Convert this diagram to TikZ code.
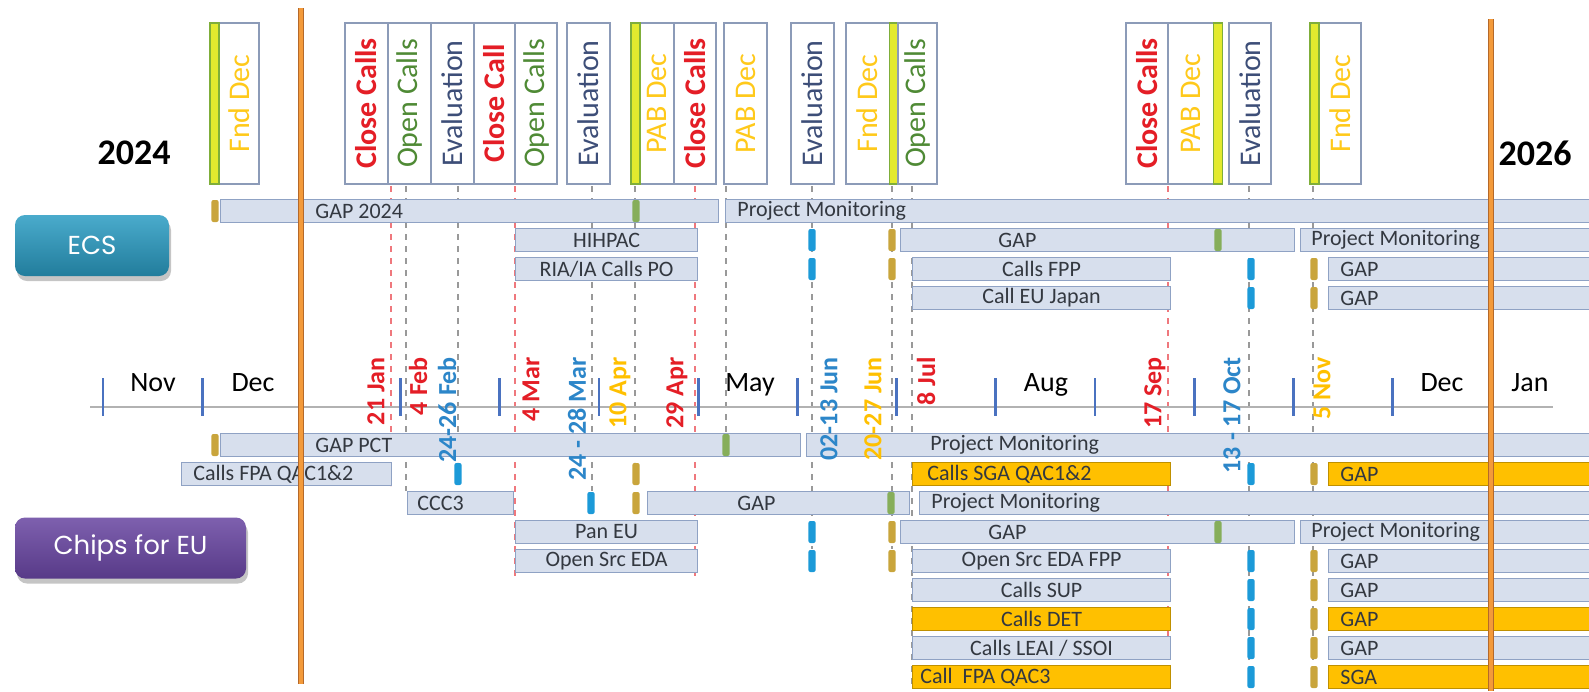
\documentclass[tikz,border=0pt]{standalone}
\usepackage{fontspec}
\setmainfont{Carlito}
\newfontfamily\btnfont{Poppins}
\usetikzlibrary{positioning,shadows}
\definecolor{barfill}{HTML}{D7DFED}
\definecolor{barline}{HTML}{8FA2C4}
\definecolor{goldbar}{HTML}{FFC000}
\definecolor{hdrline}{HTML}{8C9BB8}
\definecolor{calred}{HTML}{E41E26}
\definecolor{calgreen}{HTML}{4F8A35}
\definecolor{calslate}{HTML}{3D4E78}
\definecolor{calyellow}{HTML}{FFC91A}
\definecolor{datblue}{HTML}{2C86C9}
\definecolor{mkblue}{HTML}{1C9AD8}
\definecolor{mkgold}{HTML}{C9A53C}
\definecolor{mkgreen}{HTML}{86AE5A}
\definecolor{limebar}{HTML}{E3EA2E}
\definecolor{limeedge}{HTML}{7FAE3A}
\definecolor{tickblue}{HTML}{4A72C0}
\definecolor{orangeline}{HTML}{F39A3A}
\definecolor{orangeedge}{HTML}{B5692A}
\definecolor{ecsteal}{HTML}{2A9CC3}
\definecolor{chipspurple}{HTML}{6744A0}
\definecolor{bartext}{HTML}{333840}

\begin{document}
\begin{tikzpicture}[
  x=0.5pt, y=-0.5pt,
  bar/.style={draw=barline,fill=barfill,line width=0.6pt,minimum height=11.5pt,inner sep=0pt,anchor=west,font=\fontsize{11}{11}\selectfont,text=bartext},
  hot/.style={bar,fill=goldbar,draw=goldbar!75!black},
  bartxt/.style={inner sep=0pt,font=\fontsize{11}{11}\selectfont,text=bartext},
  mk/.style={rounded corners=1pt,minimum width=3.6pt,minimum height=11pt,inner sep=0pt},
  mkb/.style={mk,fill=mkblue},
  mkg/.style={mk,fill=mkgold},
  mkv/.style={mk,fill=mkgreen},
  hdrbox/.style={draw=hdrline,fill=white,line width=0.7pt,minimum height=80.5pt,inner sep=0pt},
  hdrtxt/.style={rotate=90,inner sep=0pt,font=\fontsize{15}{15}\selectfont},
  hdrred/.style={hdrtxt,text=calred,font=\bfseries\fontsize{15}{15}\selectfont},
  lime/.style={draw=limeedge,fill=limebar,line width=0.6pt,minimum width=4.5pt,minimum height=80.5pt,inner sep=0pt},
  datelbl/.style={rotate=90,anchor=east,inner sep=0pt,font=\bfseries\fontsize{13}{13}\selectfont},
  month/.style={anchor=base,inner sep=0pt,font=\fontsize{14}{14}\selectfont},
  year/.style={inner sep=0pt,font=\bfseries\fontsize{18}{18}\selectfont},
  dline/.style={dashed,draw=gray!80,line width=0.55pt},
  dred/.style={dashed,draw=calred!60,line width=0.55pt},
  mtick/.style={draw=tickblue,line width=1.4pt},
  btn/.style={rounded corners=5pt,minimum height=30.5pt,text=white,font=\btnfont\fontsize{13}{13}\selectfont,drop shadow={opacity=0.45,shadow xshift=1pt,shadow yshift=-2.5pt}},
  vline/.style={line width=3.2pt,draw=orangeedge},
  vlinein/.style={line width=2.2pt,draw=orangeline}
]
\fill[white] (0,0) rectangle (1589,691);
\useasboundingbox (0,0) rectangle (1589,691);

% dashed guides
\foreach \x/\yb in {406/491,458/462,592/491,635/462,726/433,812/549,892/549,912/689,1249/665,1313/665}
  \draw[dline] (\x,186) -- (\x,\yb);
\foreach \x/\yb in {391/486,515/577,695/577,1168/689}
  \draw[dred] (\x,186) -- (\x,\yb);

% time axis
\draw[gray!60,line width=0.6pt] (90,407) -- (1553,407);
\foreach \i in {0,...,14}
  \draw[mtick] ({103+99.2*\i},378) -- ++(0,38);
\node[month] (nov) at (153,391) {Nov};
\node[month] (dec) at (253,391) {Dec};
\node[month] (may) at (750,391) {May};
\node[month] (aug) at (1046,391) {Aug};
\node[month] (dec2) at (1442,391) {Dec};
\node[month] (jan) at (1530,391) {Jan};

\node[year] (y24) at (134,153) {2024};
\node[year] (y26) at (1535,153) {2026};

% header boxes
\node[hdrbox,minimum width=24.5pt] (fnd1) at (234.5,103.5) {};
\node[lime,anchor=west] (fnd1bar) at (fnd1.west) {};
\node[hdrtxt,text=calyellow] (fnd1t) at (239,103.5) {Fnd Dec};
\node[hdrbox,minimum width=21.5pt] (cc1) at (366.5,103.5) {};
\node[hdrred] (cc1t) at (cc1) {Close Calls};
\node[hdrbox,minimum width=21.5pt] (oc1) at (409.5,103.5) {};
\node[hdrtxt,text=calgreen] (oc1t) at (oc1) {Open Calls};
\node[hdrbox,minimum width=21.5pt] (ev1) at (452.5,103.5) {};
\node[hdrtxt,text=calslate] (ev1t) at (ev1) {Evaluation};
\node[hdrbox,minimum width=20.5pt] (cc2) at (494.5,103.5) {};
\node[hdrred] (cc2t) at (cc2) {Close Call};
\node[hdrbox,minimum width=21pt] (oc2) at (536,103.5) {};
\node[hdrtxt,text=calgreen] (oc2t) at (oc2) {Open Calls};
\node[hdrbox,minimum width=21.5pt] (ev2) at (588.5,103.5) {};
\node[hdrtxt,text=calslate] (ev2t) at (ev2) {Evaluation};
\node[hdrbox,minimum width=21.5pt] (pab1) at (652.5,103.5) {};
\node[lime,anchor=west] (pab1bar) at (pab1.west) {};
\node[hdrtxt,text=calyellow] (pab1t) at (657,103.5) {PAB Dec};
\node[hdrbox,minimum width=21pt] (cc3) at (695,103.5) {};
\node[hdrred] (cc3t) at (cc3) {Close Calls};
\node[hdrbox,minimum width=21.5pt] (pab2) at (745.5,103.5) {};
\node[hdrtxt,text=calyellow] (pab2t) at (pab2) {PAB Dec};
\node[hdrbox,minimum width=21.5pt] (ev3) at (812.5,103.5) {};
\node[hdrtxt,text=calslate] (ev3t) at (ev3) {Evaluation};
\node[hdrbox,minimum width=26pt] (fnd2) at (872,103.5) {};
\node[lime,anchor=east] (fnd2bar) at (fnd2.east) {};
\node[hdrtxt,text=calyellow] (fnd2t) at (867.5,103.5) {Fnd Dec};
\node[hdrbox,minimum width=19.5pt] (oc3) at (917.5,103.5) {};
\node[hdrtxt,text=calgreen] (oc3t) at (oc3) {Open Calls};
\node[hdrbox,minimum width=21pt] (cc4) at (1147,103.5) {};
\node[hdrred] (cc4t) at (cc4) {Close Calls};
\node[hdrbox,minimum width=27pt] (pab3) at (1195,103.5) {};
\node[lime,anchor=east] (pab3bar) at (pab3.east) {};
\node[hdrtxt,text=calyellow] (pab3t) at (1190.5,103.5) {PAB Dec};
\node[hdrbox,minimum width=21pt] (ev4) at (1250,103.5) {};
\node[hdrtxt,text=calslate] (ev4t) at (ev4) {Evaluation};
\node[hdrbox,minimum width=25.5pt] (fnd3) at (1335.5,103.5) {};
\node[lime,anchor=west] (fnd3bar) at (fnd3.west) {};
\node[hdrtxt,text=calyellow] (fnd3t) at (1340,103.5) {Fnd Dec};

% programme buttons
\node[btn,minimum width=77pt,top color=ecsteal!85!white,bottom color=ecsteal!80!black] (ecs) at (92,245.5) {ECS};
\node[btn,minimum width=115.5pt,top color=chipspurple!85!white,bottom color=chipspurple!85!black] (chips) at (130.5,548) {Chips for EU};

% ECS rows
\node[bar,minimum width=249pt] (gap24) at (220,211) {};
\node[bartxt,right=47.5pt of gap24.west] (gap24t) {GAP 2024};
\node[bar,minimum width=437.5pt] (pme1) at (725,211) {};
\node[bartxt,right=6pt of pme1.west] (pme1t) {Project Monitoring};
\node[bar,minimum width=91pt] (hihpac) at (515,240) {HIHPAC};
\node[bar,minimum width=197pt] (gape2) at (900,240) {};
\node[bartxt,right=49pt of gape2.west] (gape2t) {GAP};
\node[bar,minimum width=150pt] (pme2) at (1300,240) {};
\node[bartxt,right=5.5pt of pme2.west] (pme2t) {Project Monitoring};
\node[bar,minimum width=91pt] (ria) at (515,269) {RIA/IA Calls PO};
\node[bar,minimum width=129pt] (fpp) at (912,269) {Calls FPP};
\node[bar,minimum width=136pt] (gape3) at (1328,269) {};
\node[bartxt,right=6pt of gape3.west] (gape3t) {GAP};
\node[bar,minimum width=129pt] (japan) at (912,298) {Call EU Japan};
\node[bar,minimum width=136pt] (gape4) at (1328,298) {};
\node[bartxt,right=6pt of gape4.west] (gape4t) {GAP};

% Chips for EU rows
\node[bar,minimum width=290pt] (gappct) at (220,445) {};
\node[bartxt,right=47.5pt of gappct.west] (gappctt) {GAP PCT};
\node[bar,minimum width=397pt] (pmc1) at (806,445) {};
\node[bartxt,right=62pt of pmc1.west] (pmc1t) {Project Monitoring};
\node[bar,minimum width=105pt] (fpa) at (181,474) {};
\node[bartxt,right=6pt of fpa.west] (fpat) {Calls FPA QAC1\&2};
\node[hot,minimum width=129pt] (sga) at (912,474) {};
\node[bartxt,right=7.5pt of sga.west] (sgat) {Calls SGA QAC1\&2};
\node[hot,minimum width=136pt] (gapc2) at (1328,474) {};
\node[bartxt,right=6pt of gapc2.west] (gapc2t) {GAP};
\node[bar,minimum width=53pt] (ccc3) at (407,503) {};
\node[bartxt,right=5pt of ccc3.west] (ccc3t) {CCC3};
\node[bar,minimum width=131pt] (gapc3) at (647,503) {};
\node[bartxt,right=45pt of gapc3.west] (gapc3t) {GAP};
\node[bar,minimum width=340.5pt] (pmc3) at (919,503) {};
\node[bartxt,right=6pt of pmc3.west] (pmc3t) {Project Monitoring};
\node[bar,minimum width=91pt] (paneu) at (515,532) {Pan EU};
\node[bar,minimum width=197pt] (gapc4) at (900,532) {};
\node[bartxt,right=44pt of gapc4.west] (gapc4t) {GAP};
\node[bar,minimum width=150pt] (pmc4) at (1300,532) {};
\node[bartxt,right=5.5pt of pmc4.west] (pmc4t) {Project Monitoring};
\node[bar,minimum width=91pt] (oseda) at (515,561) {Open Src EDA};
\node[bar,minimum width=129pt] (osfpp) at (912,561) {Open Src EDA FPP};
\node[bar,minimum width=136pt] (gapc5) at (1328,561) {};
\node[bartxt,right=6pt of gapc5.west] (gapc5t) {GAP};
\node[bar,minimum width=129pt] (sup) at (912,590) {Calls SUP};
\node[bar,minimum width=136pt] (gapc6) at (1328,590) {};
\node[bartxt,right=6pt of gapc6.west] (gapc6t) {GAP};
\node[hot,minimum width=129pt] (det) at (912,619) {Calls DET};
\node[hot,minimum width=136pt] (gapc7) at (1328,619) {};
\node[bartxt,right=6pt of gapc7.west] (gapc7t) {GAP};
\node[bar,minimum width=129pt] (leai) at (912,648) {Calls LEAI / SSOI};
\node[bar,minimum width=136pt] (gapc8) at (1328,648) {};
\node[bartxt,right=6pt of gapc8.west] (gapc8t) {GAP};
\node[hot,minimum width=129pt] (fpa3) at (912,677) {};
\node[bartxt,right=4pt of fpa3.west] (fpa3t) {Call\ \ FPA QAC3};
\node[hot,minimum width=136pt] (sgac9) at (1328,677) {};
\node[bartxt,right=6pt of sgac9.west] (sgac9t) {SGA};

% milestone markers
\foreach \x/\y [count=\i] in {215/211,215/445}
  \node[mkg] (start\i) at (\x,\y) {};
\foreach \x/\y [count=\i] in {636/211,1218/240,726/445,891/503,1218/532}
  \node[mkv] (pab\i) at (\x,\y) {};
\foreach \x/\y [count=\i] in {812/240,812/269,1251/269,1251/298,458/474,591/503,812/532,812/561,1251/474,1251/561,1251/590,1251/619,1251/648,1251/677}
  \node[mkb] (eval\i) at (\x,\y) {};
\foreach \x/\y [count=\i] in {892/240,892/269,1314/269,1314/298,636/474,636/503,892/532,892/561,1314/474,1314/561,1314/590,1314/619,1314/648,1314/677}
  \node[mkg] (dec\i) at (\x,\y) {};

% key dates
\node[datelbl,text=calred] (d21jan) at (376,357) {21 Jan};
\node[datelbl,text=calred] (d4feb) at (418,357) {4 Feb};
\node[datelbl,text=datblue] (d24feb) at (447,357) {24-26 Feb};
\node[datelbl,text=calred] (d4mar) at (531,357) {4 Mar};
\node[datelbl,text=datblue] (d24mar) at (577,357) {24 - 28 Mar};
\node[datelbl,text=goldbar] (d10apr) at (620,357) {10 Apr};
\node[datelbl,text=calred] (d29apr) at (677,357) {29 Apr};
\node[datelbl,text=datblue] (d02jun) at (829,357) {02-13 Jun};
\node[datelbl,text=goldbar] (d20jun) at (873,357) {20-27 Jun};
\node[datelbl,text=calred] (d8jul) at (926,357) {8 Jul};
\node[datelbl,text=calred] (d17sep) at (1155,357) {17 Sep};
\node[datelbl,text=datblue] (d13oct) at (1232,357) {13 - 17 Oct};
\node[datelbl,text=goldbar] (d5nov) at (1322,357) {5 Nov};

% year boundaries
\draw[vline] (301,8) -- (301,684);
\draw[vlinein] (301,8) -- (301,684);
\draw[vline] (1491,19) -- (1491,691);
\draw[vlinein] (1491,19) -- (1491,691);
\end{tikzpicture}
\end{document}
